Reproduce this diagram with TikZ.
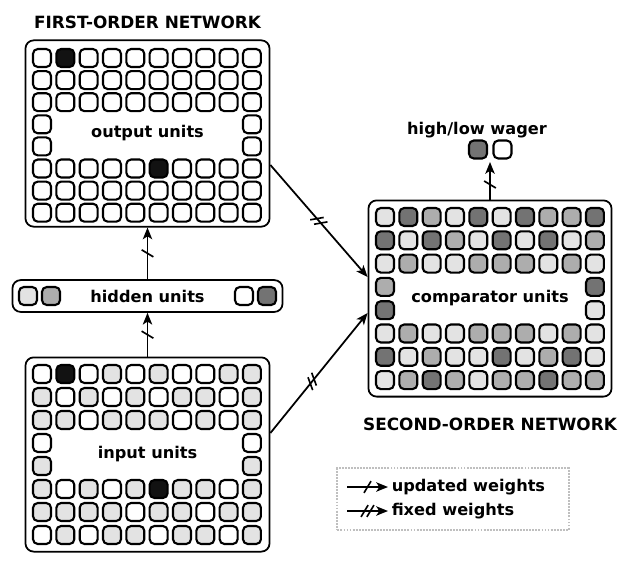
\documentclass[tikz,border=0pt]{standalone}
\usepackage{fontspec}
\setmainfont{DejaVu Sans}
\usetikzlibrary{arrows.meta,positioning,calc,decorations.markings}

\definecolor{shadew}{gray}{1}
\definecolor{shadel}{gray}{0.89}
\definecolor{shadem}{gray}{0.68}
\definecolor{shaded}{gray}{0.45}
\definecolor{shadek}{gray}{0.07}

% one grid of units, n = no unit at that place
\newcommand{\unitgrid}[5]{%
  \foreach \shades [count=\r from 0] in {#5}
    \foreach \s [count=\c from 0] in \shades
      {\if n\s\else
         \node[unit, fill=shade\s] (#1-\r-\c) at ({#2+23.33*\c}, {#3+#4*\r}) {};
       \fi}}

\begin{document}
\begin{tikzpicture}[x=0.03cm,y=-0.03cm,
  layer/.style={draw,rounded corners=7pt,line width=1.5pt,inner sep=0pt,
    font=\fontsize{13.8}{16}\selectfont\bfseries},
  unit/.style={draw,rounded corners=4pt,line width=1.8pt,minimum size=15.3pt,inner sep=0pt},
  title/.style={inner sep=0pt,font=\fontsize{14.4}{17}\selectfont\bfseries},
  lbl/.style={inner sep=3pt,font=\fontsize{13.8}{16}\selectfont\bfseries},
  weight/.style={-{Stealth[length=10pt,width=8pt,inset=2.5pt]},line width=1.5pt},
  updated/.style={weight,postaction={decorate},
    decoration={markings,mark=at position #1 with
      {\draw[-,line width=1.4pt] (-3pt,-5pt) -- (3pt,5pt);}}},
  updated/.default=0.5,
  fixed/.style={weight,postaction={decorate},
    decoration={markings,mark=at position #1 with
      {\draw[-,line width=1.4pt] (-5.5pt,-5pt) -- (0.5pt,5pt) (-0.5pt,-5pt) -- (5.5pt,5pt);}}},
  fixed/.default=0.5]

  \useasboundingbox (0,0) rectangle (628,565);

  \node[layer, minimum width=208.3pt, minimum height=159pt] (outbox) at (147.5,133.5) {output units};
  \node[layer, minimum width=230.5pt, minimum height=27.2pt] (hidbox) at (147.5,296) {hidden units};
  \node[layer, minimum width=208.3pt, minimum height=165.8pt] (inbox) at (147.5,454.5) {input units};
  \node[layer, minimum width=207.5pt, minimum height=167.5pt] (cmpbox) at (490,298.5) {comparator units};

  \node[title, above=9pt of outbox] (firsttitle) {FIRST-ORDER NETWORK};
  \node[title, below=17pt of cmpbox] (secondtitle) {SECOND-ORDER NETWORK};

  \unitgrid{out}{42}{58}{22.1}{{w,k,w,w,w,w,w,w,w,w},{w,w,w,w,w,w,w,w,w,w},
    {w,w,w,w,w,w,w,w,w,w},{w,n,n,n,n,n,n,n,n,w},{w,n,n,n,n,n,n,n,n,w},
    {w,w,w,w,w,k,w,w,w,w},{w,w,w,w,w,w,w,w,w,w},{w,w,w,w,w,w,w,w,w,w}}
  \unitgrid{in}{42}{374}{23}{{w,k,w,l,w,l,w,w,l,l},{l,w,l,w,l,w,l,l,w,l},
    {l,l,w,l,l,l,w,l,w,l},{w,n,n,n,n,n,n,n,n,w},{l,n,n,n,n,n,n,n,n,l},
    {l,w,l,w,l,k,l,l,w,l},{l,l,l,l,w,l,l,w,l,l},{w,l,w,l,l,w,l,l,w,l}}
  \unitgrid{cmp}{385}{217}{23.3}{{l,d,m,l,d,l,d,m,m,d},{d,l,d,m,l,d,l,d,l,m},
    {l,m,l,l,m,m,m,l,m,l},{m,n,n,n,n,n,n,n,n,d},{d,n,n,n,n,n,n,n,n,l},
    {l,m,l,l,m,m,m,l,m,l},{d,l,m,l,l,d,l,m,d,l},{l,m,d,m,l,m,m,d,m,m}}

  \node[unit, fill=shadel] (hid-1) at (28,296) {};
  \node[unit, fill=shadem] (hid-2) at (51,296) {};
  \node[unit, fill=shadew] (hid-3) at (244,296) {};
  \node[unit, fill=shaded] (hid-4) at (267,296) {};

  \node[lbl, inner sep=0pt] (wagerlbl) at (477,130) {high/low wager};
  \node[unit, fill=shaded] (wager-hi) at (478,149.5) {};
  \node[unit, fill=shadew] (wager-lo) at (502.5,149.5) {};
  \coordinate (wager) at (490,162);

  \draw[updated] (inbox.north) -- (hidbox.south);
  \draw[updated] (hidbox.north) -- (outbox.south);
  \draw[updated=0.4] (cmpbox.north) -- (wager);
  \draw[fixed] ($(outbox.east)+(0,31.5)$) -- ($(cmpbox.west)+(0,-21.5)$);
  \draw[fixed=0.43] ($(inbox.east)+(0,-21.5)$) -- ($(cmpbox.west)+(0,14.5)$);

  \node[draw=gray!50, densely dotted, line width=1.6pt, minimum width=197.3pt,
    minimum height=52.7pt] (legend) at (453,499) {};
  \coordinate (updstart) at (347,487);
  \coordinate (fixstart) at (347,511);
  \node[lbl, anchor=west] (updlbl) at (388,487) {updated weights};
  \node[lbl, anchor=west] (fixlbl) at (388,511) {fixed weights};
  \draw[updated] (updstart) -- (updlbl.west);
  \draw[fixed] (fixstart) -- (fixlbl.west);

\end{tikzpicture}
\end{document}
